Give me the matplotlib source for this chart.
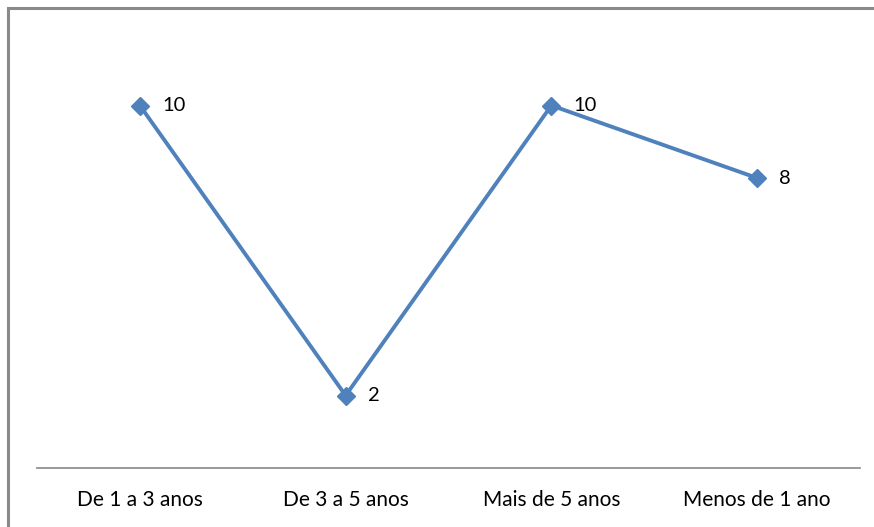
import matplotlib
matplotlib.use("Agg")
import matplotlib.pyplot as plt
from matplotlib.patches import Rectangle

categories = ["De 1 a 3 anos", "De 3 a 5 anos", "Mais de 5 anos", "Menos de 1 ano"]
values = [10, 2, 10, 8]

W, H = 874, 527
fig = plt.figure(figsize=(W / 100, H / 100), dpi=100)
fig.patch.set_facecolor("white")

# chart frame (extends past the right and bottom edges)
fig.add_artist(Rectangle((7.5 / W, -0.1), 1.2, 1 - 7.5 / H + 0.1,
                         transform=fig.transFigure, fill=False,
                         edgecolor="#8a8a8a", linewidth=2.2, clip_on=False))

ax = fig.add_axes([37 / W, 1 - 468 / H, (860 - 37) / W, (468 - 33) / H])
ax.set_xlim(-0.5, 3.5)
ax.set_ylim(0, 12)

x = list(range(len(categories)))
ax.plot(x, values, color="#4F81BD", linewidth=2.8, marker="D", markersize=9,
        markerfacecolor="#4F81BD", markeredgecolor="#4F81BD", zorder=3)

for xi, v in zip(x, values):
    ax.annotate(str(v), (xi, v), xytext=(16, 0), textcoords="offset points",
                ha="left", va="center", fontsize=14.5, family="Lato",
                color="black")

for s in ["top", "right", "left"]:
    ax.spines[s].set_visible(False)
ax.spines["bottom"].set_color("#888888")
ax.spines["bottom"].set_linewidth(1.2)
ax.set_yticks([])
ax.set_xticks(x)
ax.set_xticklabels(categories, fontsize=15, family="Lato")
ax.tick_params(axis="x", length=0, pad=16)
ax.set_facecolor("none")

fig.savefig("out.png", dpi=100, facecolor="white")
